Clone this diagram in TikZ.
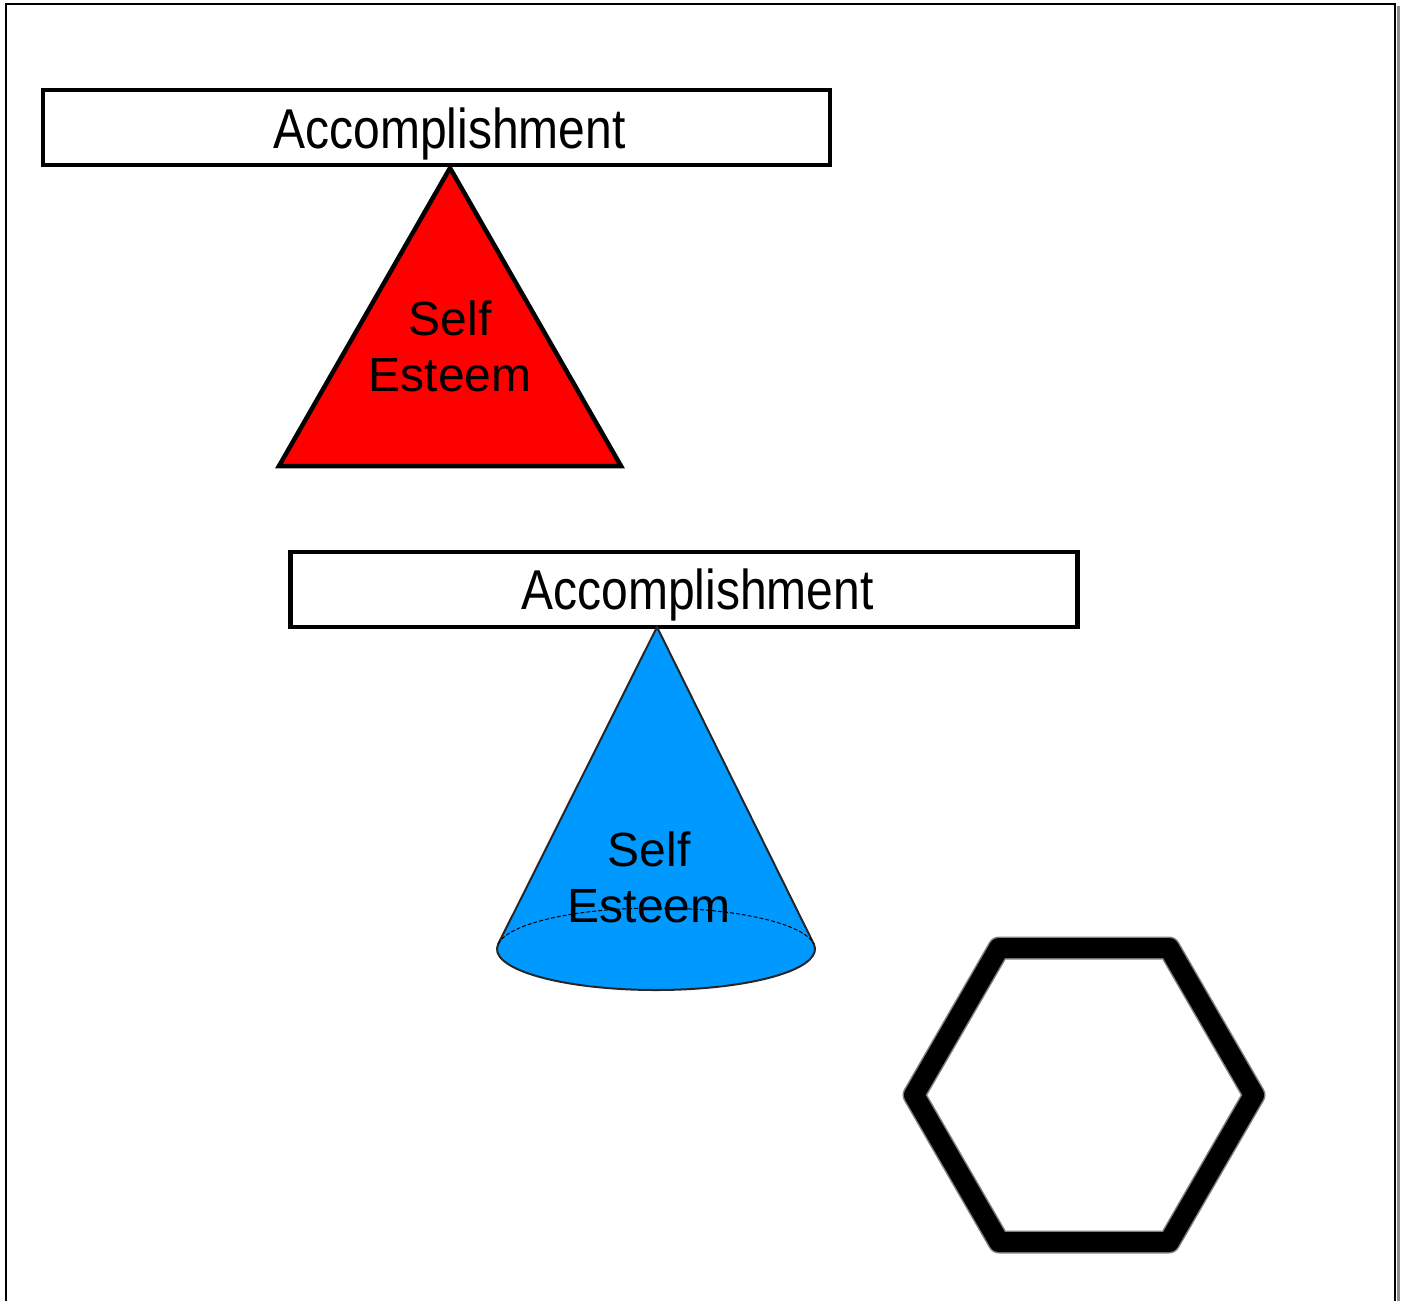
\documentclass[tikz,border=0pt]{standalone}
\usepackage{fontspec}
\setmainfont{Liberation Sans}
\usepackage{tikz}
\definecolor{coneblue}{HTML}{0099FF}

\begin{document}
\begin{tikzpicture}[x=1pt, y=-1pt,
	bar/.style={draw, line width=4.5pt, minimum width=787pt, minimum height=75pt, inner sep=0pt},
	bartext/.style={font=\fontsize{48}{55}\selectfont, anchor=base, inner sep=0pt},
	shapetext/.style={font=\fontsize{48}{56}\selectfont, align=center, inner sep=0pt}]
	\useasboundingbox (0,0) rectangle (1404,1301);

	% Frame
	\draw[line width=3pt, black!45] (1398,6) -- (1398,1301);
	\draw[line width=2.5pt] (6,1301) -- (6,4) -- (1395,4) -- (1395,1301);

	% top bar and triangle
	\node[bar] (acc1) at (436.5,127.5) {};
	\node[bartext] (acct1) at (449.5,148) {\scalebox{1}[1.17]{Accomplishment}};
	\coordinate (tri1) at (450,168);
	\coordinate (tri2) at (279,466);
	\coordinate (tri3) at (621,466);
	\draw[line width=4.5pt, fill=red, line join=miter] (tri1) -- (tri2) -- (tri3) -- cycle;
	\node[shapetext] (self1) at (450,346) {Self\\Esteem};

	% lower bar and cone
	\node[bar] (acc2) at (684,589.5) {};
	\node[bartext] (acct2) at (697.5,609) {\scalebox{1}[1.17]{Accomplishment}};
	\coordinate (apex) at (657,627);
	\draw[line width=2pt, draw=black!85, fill=coneblue] (apex) -- (498.2,944)
		arc[start angle=187, end angle=-7, x radius=159, y radius=41] -- cycle;
	\draw[dashed, line width=1pt, dash pattern=on 4pt off 2pt] (498.2,944)
		arc[start angle=187, end angle=353, x radius=159, y radius=41];
	\node[shapetext] (self2) at (649,877.5) {Self\\Esteem};

	% hexagon
	\draw[line width=23pt, black!50, line join=round]
		(914,1095) -- (999,948) -- (1169,948) -- (1254,1095) -- (1169,1242) -- (999,1242) -- cycle;
	\draw[line width=20pt, line join=round]
		(914,1095) -- (999,948) -- (1169,948) -- (1254,1095) -- (1169,1242) -- (999,1242) -- cycle;

\end{tikzpicture}
\end{document}
